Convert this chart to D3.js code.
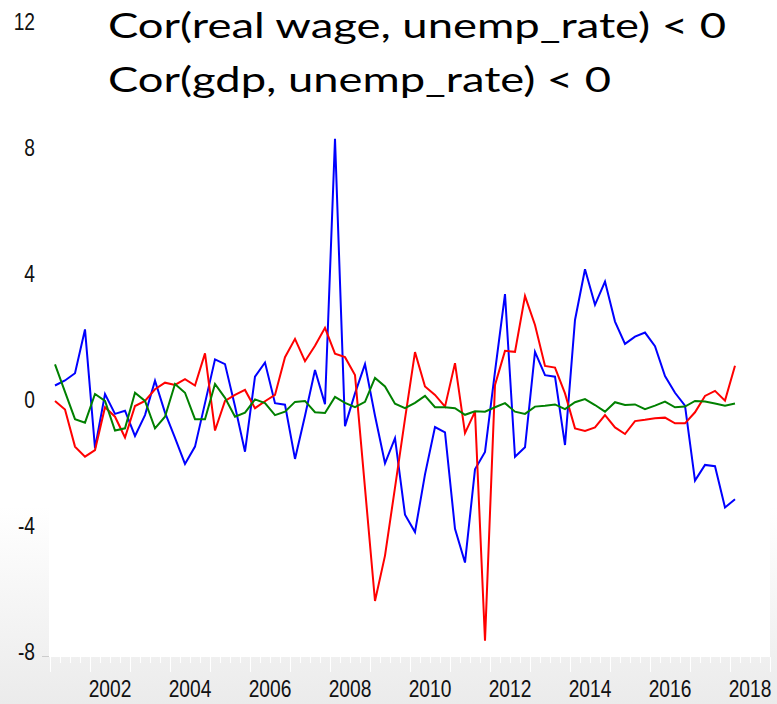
<!DOCTYPE html>
<meta charset="utf-8">
<style>
body { margin: 0; }
svg { display: block; }
.tick-label { font: 24px "Liberation Sans", Arial, sans-serif; fill: #111; }
.title { font: 35px Lato, "Open Sans", sans-serif; fill: #000; }
.series { fill: none; stroke-width: 2; stroke-linejoin: miter; }
</style>
<body>
<svg width="777" height="704"></svg>
<script src="https://d3js.org/d3.v7.min.js"></script>
<script>

// quarterly, 2001Q1 .. 2018Q1
var startYear = 2001;

var blueSeries = [0.46, 0.62, 0.85, 2.24, -1.53, 0.19, -0.44, -0.34, -1.14, -0.48,
  0.61, -0.4, -1.2, -2.03, -1.48, -0.1, 1.29, 1.14, -0.2, -1.64,
  0.74, 1.19, -0.10, -0.15, -1.87, -0.50, 0.95, -0.13, 8.29, -0.83,
  0.21, 1.14, -0.50, -2.01, -1.21, -3.64, -4.19, -2.36, -0.86, -1.03,
  -4.09, -5.16, -2.2, -1.65, 0.9, 3.36, -1.8, -1.50, 1.53, 0.79,
  0.74, -1.43, 2.54, 4.15, 3.02, 3.76, 2.49, 1.78, 2.01, 2.14,
  1.71, 0.76, 0.23, -0.18, -2.56, -2.06, -2.10, -3.41, -3.15];

var redSeries = [-0.03, -0.30, -1.48, -1.80, -1.59, -0.23, -0.53, -1.19, -0.19, -0.03,
  0.34, 0.55, 0.48, 0.66, 0.46, 1.48, -0.97, -0.03, 0.16, 0.32,
  -0.26, -0.04, 0.16, 1.36, 1.94, 1.23, 1.72, 2.29, 1.47, 1.36,
  0.79, -2.8, -6.38, -4.94, -2.78, -0.6, 1.52, 0.43, 0.16, -0.21,
  1.17, -1.05, -0.37, -7.64, 0.48, 1.56, 1.53, 3.30, 2.38, 1.08,
  1.03, 0.21, -0.90, -0.98, -0.87, -0.48, -0.87, -1.08, -0.67, -0.63,
  -0.58, -0.56, -0.74, -0.74, -0.39, 0.13, 0.29, -0.02, 1.09];

var greenSeries = [1.13, 0.26, -0.61, -0.72, 0.19, -0.03, -0.97, -0.90, 0.23, -0.03,
  -0.90, -0.53, 0.51, 0.23, -0.61, -0.61, 0.51, 0.07, -0.53, -0.40,
  0.02, -0.10, -0.48, -0.37, -0.06, -0.03, -0.39, -0.41, 0.10, -0.09,
  -0.23, -0.06, 0.70, 0.43, -0.12, -0.26, -0.09, 0.13, -0.23, -0.23,
  -0.26, -0.47, -0.36, -0.37, -0.23, -0.10, -0.37, -0.44, -0.21, -0.18,
  -0.14, -0.29, -0.07, 0.03, -0.16, -0.37, -0.07, -0.16, -0.14, -0.29,
  -0.18, -0.05, -0.23, -0.21, -0.03, -0.05, -0.11, -0.18, -0.11];

var yTicks = [12, 8, 4, 0, -4, -8];
var yearLabels = [2002, 2004, 2006, 2008, 2010, 2012, 2014, 2016, 2018];
var titleLines = ["Cor(real wage, unemp_rate) < 0", "Cor(gdp, unemp_rate) < 0"];

var svg = d3.select("svg"),
    width = +svg.attr("width"),
    height = +svg.attr("height");

var x = d3.scaleLinear().domain([2001, 2019]).range([50, 770]);
var y = d3.scaleLinear().domain([-8, 12]).range([652, 22]);

var plotBottom = 657,
    narrow = 0.8;   // condensed look of the tick labels

// slide background: white fading to light grey at the bottom
var grad = svg.append("defs").append("linearGradient")
    .attr("id", "bg").attr("x1", 0).attr("y1", 0).attr("x2", 0).attr("y2", 1);
grad.append("stop").attr("offset", "0.72").attr("stop-color", "#ffffff");
grad.append("stop").attr("offset", "1").attr("stop-color", "#ebebeb");

svg.append("rect").attr("width", width).attr("height", height).attr("fill", "url(#bg)");

svg.append("rect")
    .attr("x", x.range()[0] - 1).attr("y", 0)
    .attr("width", x.range()[1] - x.range()[0] + 1)
    .attr("height", plotBottom)
    .attr("fill", "#fff");

// x ticks: quarters short, years long
var quarters = d3.range(0, (2019 - 2001) * 4 + 1).map(function(k) { return 2001 + k / 4; });
svg.append("g").selectAll("line")
    .data(quarters)
  .enter().append("line")
    .attr("x1", function(d) { return x(d) + 0.5; })
    .attr("x2", function(d) { return x(d) + 0.5; })
    .attr("y1", plotBottom)
    .attr("y2", function(d) { return d % 1 === 0 ? plotBottom + 15 : plotBottom + 6; })
    .attr("stroke", "#fff")
    .attr("stroke-width", 1);

svg.append("g").selectAll("text")
    .data(yearLabels)
  .enter().append("text")
    .attr("class", "tick-label")
    .attr("transform", function(d) { return "translate(" + x(d + 0.5) + ",697) scale(" + narrow + ",1)"; })
    .attr("text-anchor", "middle")
    .text(function(d) { return d; });

svg.append("g").selectAll("text")
    .data(yTicks)
  .enter().append("text")
    .attr("class", "tick-label")
    .attr("transform", function(d) { return "translate(35," + y(d) + ") scale(" + narrow + ",1)"; })
    .attr("dy", "0.35em")
    .attr("text-anchor", "end")
    .text(function(d) { return d; });

svg.append("line")
    .attr("x1", 42).attr("x2", 49)
    .attr("y1", plotBottom - 0.5).attr("y2", plotBottom - 0.5)
    .attr("stroke", "#ccc");

// series
var line = d3.line()
    .x(function(d, i) { return x(startYear + (i + 0.5) / 4); })
    .y(function(d) { return y(d); });

var series = [
  { values: blueSeries, color: "#0000ff" },
  { values: redSeries, color: "#ff0000" },
  { values: greenSeries, color: "#008000" }
];

svg.append("g").selectAll("path")
    .data(series)
  .enter().append("path")
    .attr("class", "series")
    .attr("stroke", function(d) { return d.color; })
    .attr("d", function(d) { return line(d.values); });

// title
var titleWidths = [618, 503];
svg.append("g").selectAll("text")
    .data(titleLines)
  .enter().append("text")
    .attr("class", "title")
    .attr("x", 108)
    .attr("y", function(d, i) { return 38 + i * 54; })
    .attr("textLength", function(d, i) { return titleWidths[i]; })
    .attr("lengthAdjust", "spacingAndGlyphs")
    .text(function(d) { return d; });

</script>
</body>
